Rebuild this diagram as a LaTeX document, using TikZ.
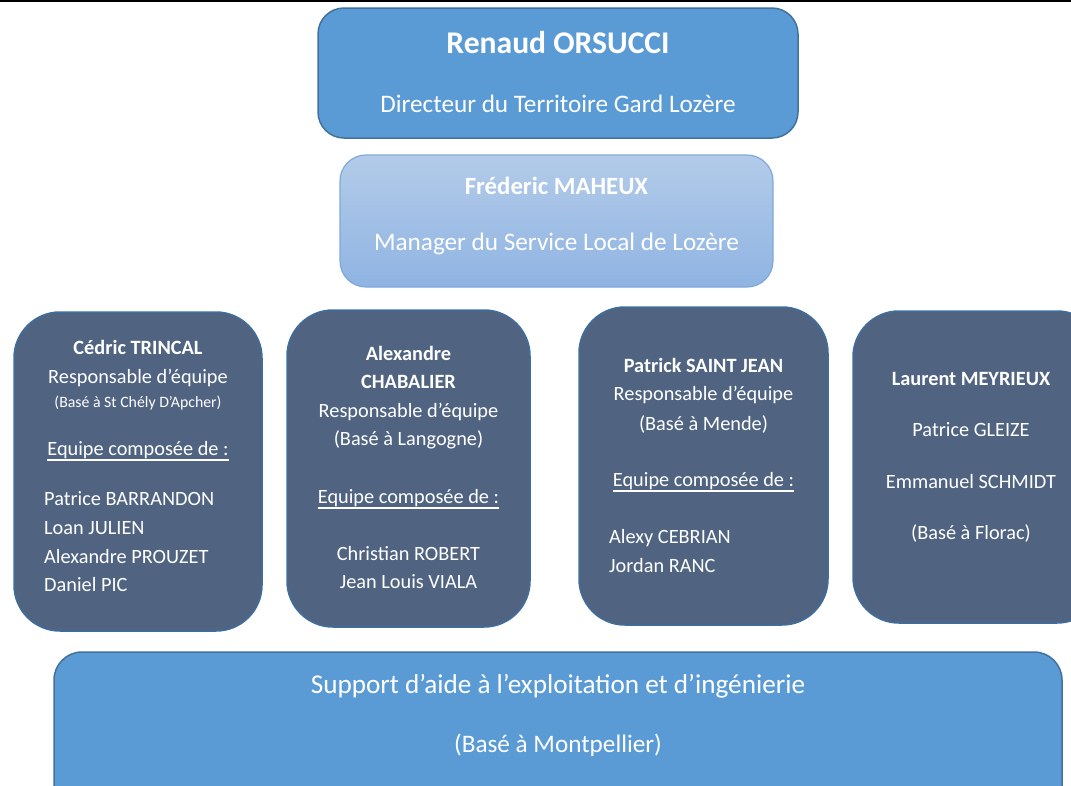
\documentclass[tikz,border=0pt]{standalone}
\usepackage{fontspec}
\setmainfont{Carlito}
\definecolor{topfill}{HTML}{5B9BD5}
\definecolor{topdraw}{HTML}{41719C}
\definecolor{midtop}{HTML}{B3CBE9}
\definecolor{midbot}{HTML}{8FB4E2}
\definecolor{middraw}{HTML}{7FA9DC}
\definecolor{teamfill}{HTML}{506482}
\definecolor{teamdraw}{HTML}{3F6E9E}
\tikzset{
  bluebox/.style={draw=topdraw, fill=topfill, line width=1.5pt, rounded corners=26pt, inner sep=0pt},
  midbox/.style={draw=middraw, top color=midtop, bottom color=midbot, line width=1.2pt, rounded corners=26pt, inner sep=0pt},
  teambox/.style={draw=teamdraw, fill=teamfill, line width=1.5pt, rounded corners=46pt, inner sep=0pt},
  txt/.style={text=white, inner sep=0pt, text height=0.64em, text depth=0pt, yshift=-4.5pt},
  fa/.style={txt, font=\fontsize{20.3}{24}\selectfont},
  fab/.style={txt, font=\bfseries\fontsize{20.3}{24}\selectfont},
  fs/.style={txt, font=\fontsize{15.8}{19}\selectfont},
  fl/.style={txt, font=\fontsize{25.2}{30}\selectfont},
  flb/.style={txt, font=\bfseries\fontsize{24.8}{30}\selectfont},
  fxl/.style={txt, font=\bfseries\fontsize{31.6}{38}\selectfont, yshift=-3pt},
  fsup/.style={txt, font=\fontsize{27.2}{32}\selectfont},
  fsupb/.style={txt, font=\fontsize{25.2}{30}\selectfont},
  uline/.style={draw=white, line width=1.3pt},
}
\begin{document}
\begin{tikzpicture}[x=1pt,y=-1pt]
\useasboundingbox (0,0) rectangle (1071,785);
\clip (0,0) rectangle (1071,785);
\fill[black] (0,0) rectangle (1071,1.6);

% boxes
\node[bluebox, minimum width=480pt, minimum height=130pt] (dir) at (558,73) {};
\node[midbox, minimum width=433pt, minimum height=132pt] (man) at (556.5,221) {};
\node[teambox, minimum width=248pt, minimum height=319pt] (t1) at (138,471.5) {};
\node[teambox, minimum width=243pt, minimum height=317pt] (t2) at (408.5,468.5) {};
\node[teambox, minimum width=249pt, minimum height=318pt] (t3) at (703.5,466) {};
\node[teambox, minimum width=250pt, minimum height=312pt] (t4) at (978,467) {};
\node[bluebox, rounded corners=28pt, minimum width=1008pt, minimum height=180pt] (sup) at (558,742) {};

% top
\node[fxl] (dirname) at (558,43) {Renaud ORSUCCI};
\node[fl] (dirrole) at (558,105) {Directeur du Territoire Gard Lozère};
\node[flb] (manname) at (556.5,187) {Fréderic MAHEUX};
\node[fl] (manrole) at (556.5,243) {Manager du Service Local de Lozère};

% team 1
\node[fab] (a1) at (138,347) {Cédric TRINCAL};
\node[fa] (a2) at (138,376) {Responsable d’équipe};
\node[fs] (a3) at (138,400) {(Basé à St Chély D’Apcher)};
\node[fa] (a4) at (138,448) {Equipe composée de :};
\node[fa, anchor=west] (a5) at (44,498) {Patrice BARRANDON};
\node[fa, anchor=west] (a6) at (44,527) {Loan JULIEN};
\node[fa, anchor=west] (a7) at (44,556) {Alexandre PROUZET};
\node[fa, anchor=west] (a8) at (44,584) {Daniel PIC};
\draw[uline] ([yshift=-4pt]a4.south west) -- ([yshift=-4pt]a4.south east);

% team 2
\node[fab] (b1) at (408.5,353) {Alexandre};
\node[fab] (b2) at (408.5,381) {CHABALIER};
\node[fa] (b3) at (408.5,410) {Responsable d’équipe};
\node[fa] (b4) at (408.5,438) {(Basé à Langogne)};
\node[fa] (b5) at (408.5,496) {Equipe composée de :};
\node[fa] (b6) at (408.5,553) {Christian ROBERT};
\node[fa] (b7) at (408.5,581) {Jean Louis VIALA};
\draw[uline] ([yshift=-4pt]b5.south west) -- ([yshift=-4pt]b5.south east);

% team 3
\node[fab] (c1) at (703.5,365) {Patrick SAINT JEAN};
\node[fa] (c2) at (703.5,393) {Responsable d’équipe};
\node[fa] (c3) at (703.5,423) {(Basé à Mende)};
\node[fa] (c4) at (703.5,479) {Equipe composée de :};
\node[fa, anchor=west] (c5) at (609,536) {Alexy CEBRIAN};
\node[fa, anchor=west] (c6) at (609,565) {Jordan RANC};
\draw[uline] ([yshift=-4pt]c4.south west) -- ([yshift=-4pt]c4.south east);

% team 4
\node[fab] (d1) at (971,378) {Laurent MEYRIEUX};
\node[fa] (d2) at (971,429) {Patrice GLEIZE};
\node[fa] (d3) at (971,481) {Emmanuel SCHMIDT};
\node[fa] (d4) at (971,532) {(Basé à Florac)};

% support
\node[fsup] (s1) at (558,686) {Support d’aide à l’exploitation et d’ingénierie};
\node[fsupb] (s2) at (558,745) {(Basé à Montpellier)};
\end{tikzpicture}
\end{document}
